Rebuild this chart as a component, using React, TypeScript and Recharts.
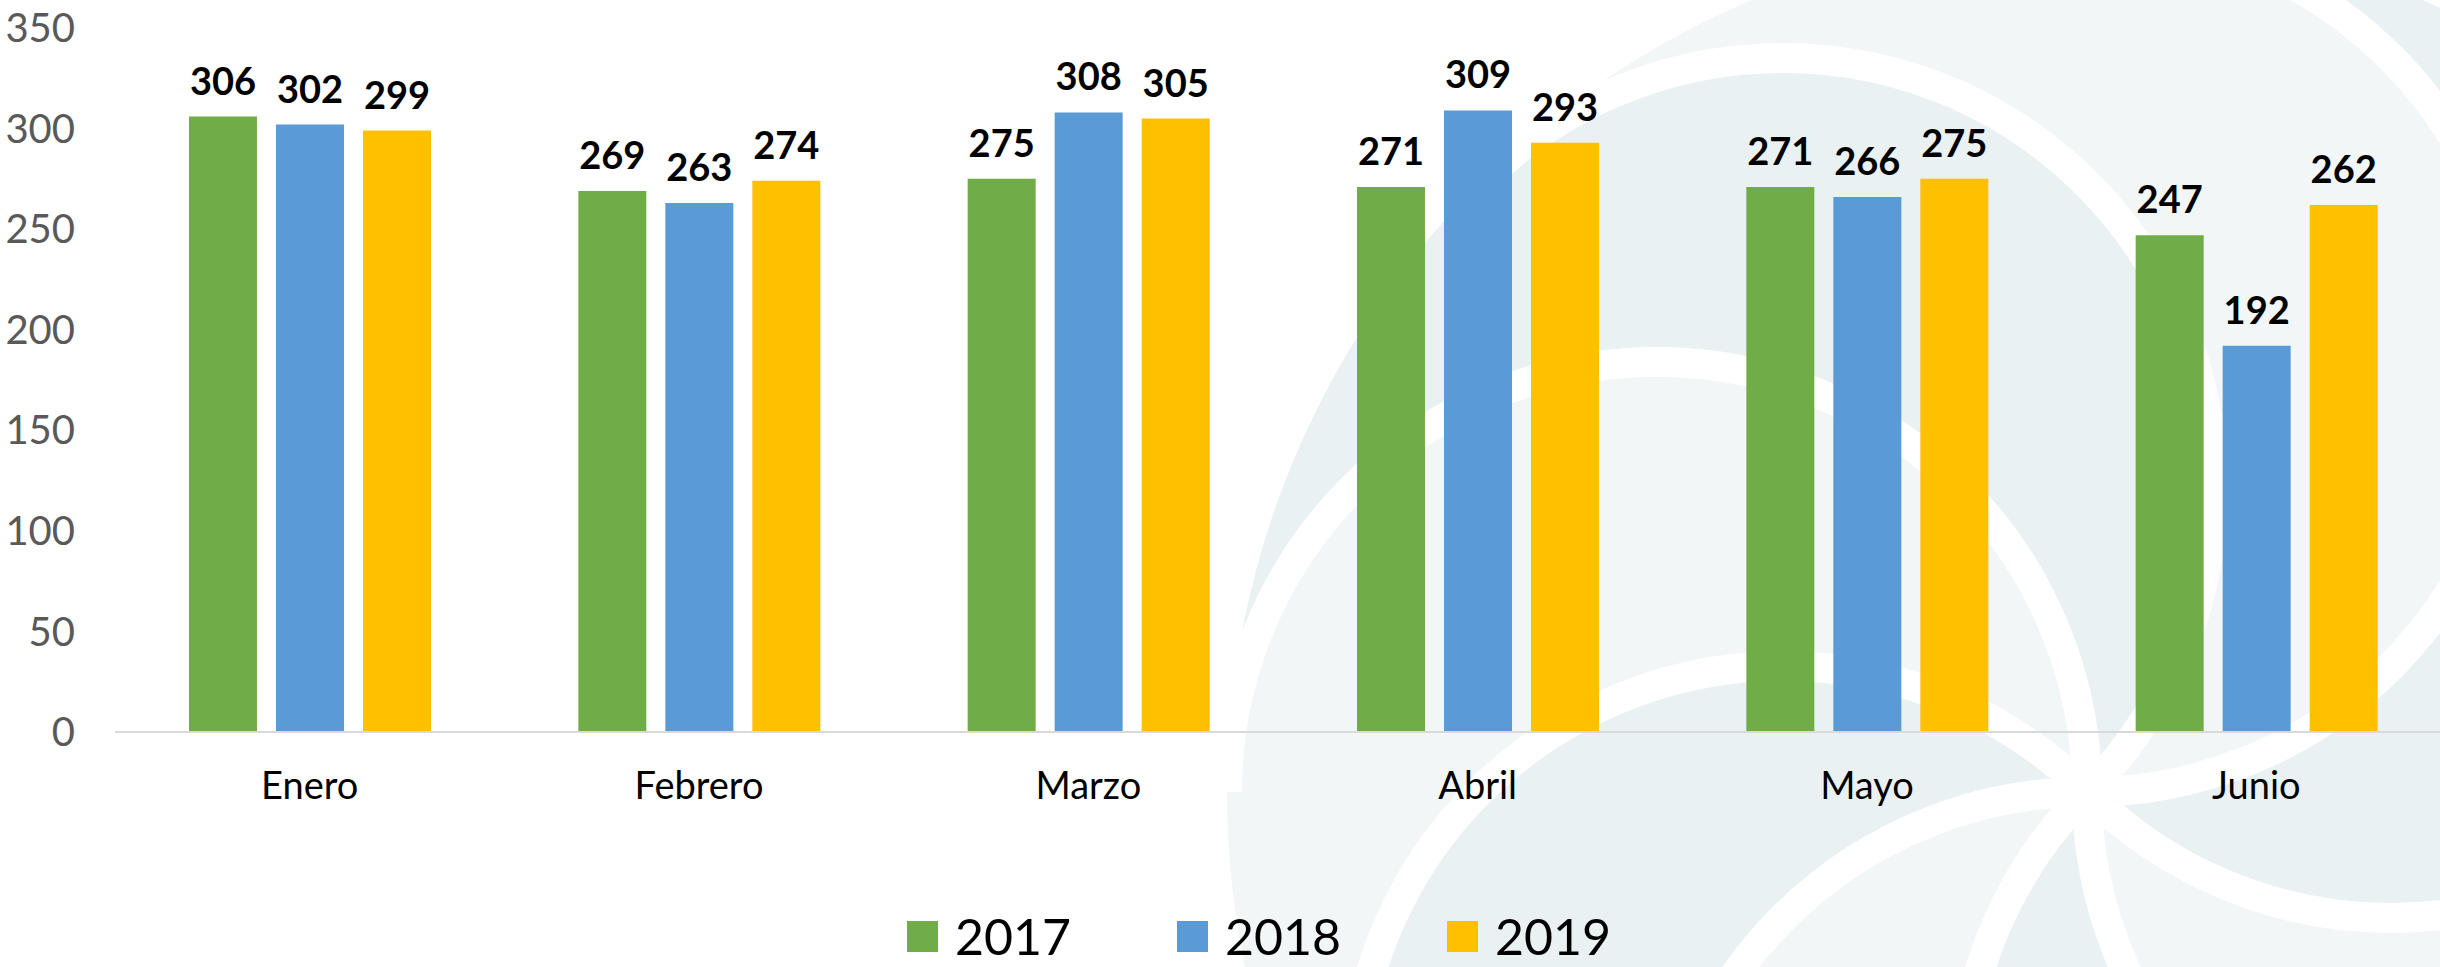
import React from "react";
import { Bar, BarChart, LabelList, Legend, XAxis, YAxis } from "recharts";

const months = ["Enero", "Febrero", "Marzo", "Abril", "Mayo", "Junio"];
const values2017 = [306, 269, 275, 271, 271, 247];
const values2018 = [302, 263, 308, 309, 266, 192];
const values2019 = [299, 274, 305, 293, 275, 262];
const yTicks = [0, 50, 100, 150, 200, 250, 300, 350];

const series = [
  { key: "2017", color: "#70AD47" },
  { key: "2018", color: "#5B9BD5" },
  { key: "2019", color: "#FFC000" },
];

const chartData = months.map((month, i) => ({
  month,
  "2017": values2017[i],
  "2018": values2018[i],
  "2019": values2019[i],
}));

const FONT = "Lato, 'Open Sans', sans-serif";

// decorative pinwheel behind the chart
const pivot = { x: 2087, y: 792 };
const petalAngles = [0, 45, 90, 135, 180, 225, 270, 315];
const petalRadius = 430;
const petalTones = ["#e9f1f3", "#f2f6f7"];

function Backdrop() {
  const R = petalRadius;
  const ends = petalAngles.map((deg) => {
    const a = (deg * Math.PI) / 180;
    return { x: pivot.x + 2 * R * Math.cos(a), y: pivot.y + 2 * R * Math.sin(a) };
  });
  const petals = ends.map((p, i) => {
    const q = ends[(i + 1) % ends.length];
    return `M ${pivot.x} ${pivot.y} A ${R} ${R} 0 0 0 ${p.x} ${p.y} A ${2 * R} ${2 * R} 0 0 1 ${q.x} ${q.y} A ${R} ${R} 0 0 1 ${pivot.x} ${pivot.y} Z`;
  });
  const arcs = ends.map((p) => `M ${pivot.x} ${pivot.y} A ${R} ${R} 0 0 0 ${p.x} ${p.y}`);

  return (
    <svg width={2440} height={967} style={{ position: "absolute", left: 0, top: 0 }}>
      {petals.map((d, i) => (
        <path key={`p${i}`} d={d} fill={petalTones[i % 2]} />
      ))}
      {arcs.map((d, i) => (
        <path key={`a${i}`} d={d} fill="none" stroke="#ffffff" strokeWidth={30} />
      ))}
    </svg>
  );
}

function LegendContent({ payload }: any) {
  return (
    <div style={{ display: "flex", alignItems: "center", height: 46, paddingLeft: 907, fontFamily: FONT }}>
      {(payload || []).map((entry: any) => (
        <div key={entry.value} style={{ display: "flex", alignItems: "center", width: 270, height: 46 }}>
          <span style={{ width: 31, height: 31, background: entry.color, marginRight: 17, display: "block" }} />
          <span style={{ fontSize: 50, lineHeight: "46px", height: 46, display: "block", color: "#000" }}>
            {entry.value}
          </span>
        </div>
      ))}
    </div>
  );
}

export default function App() {
  return (
    <div
      style={{
        position: "absolute",
        left: 0,
        top: 0,
        width: 2440,
        height: 967,
        overflow: "hidden",
        background: "#ffffff",
      }}
    >
      <Backdrop />
      <div style={{ position: "absolute", left: 0, top: 0 }}>
        <BarChart
          width={2452}
          height={967}
          data={chartData}
          margin={{ top: 28, right: 1, left: 0, bottom: 79 }}
          barSize={68}
          barGap={19}
        >
          <XAxis
            dataKey="month"
            height={110}
            axisLine={{ stroke: "#d9d9d9", strokeWidth: 2 }}
            tickLine={false}
            tickSize={0}
            tickMargin={40}
            tick={{ fill: "#000000", fontSize: 38, fontFamily: FONT }}
          />
          <YAxis
            width={115}
            domain={[0, 350]}
            ticks={yTicks}
            axisLine={false}
            tickLine={false}
            tickSize={0}
            tickMargin={40}
            tick={{ fill: "#595959", fontSize: 40, fontFamily: FONT }}
          />
          <Legend
            verticalAlign="bottom"
            content={<LegendContent />}
            wrapperStyle={{ left: 0, top: 913, bottom: "auto", width: 2440 }}
          />
          {series.map((s) => (
            <Bar key={s.key} dataKey={s.key} name={s.key} fill={s.color} isAnimationActive={false}>
              <LabelList
                dataKey={s.key}
                position="top"
                offset={22}
                fill="#000000"
                fontSize={38}
                fontWeight="bold"
                fontFamily={FONT}
              />
            </Bar>
          ))}
        </BarChart>
      </div>
    </div>
  );
}
